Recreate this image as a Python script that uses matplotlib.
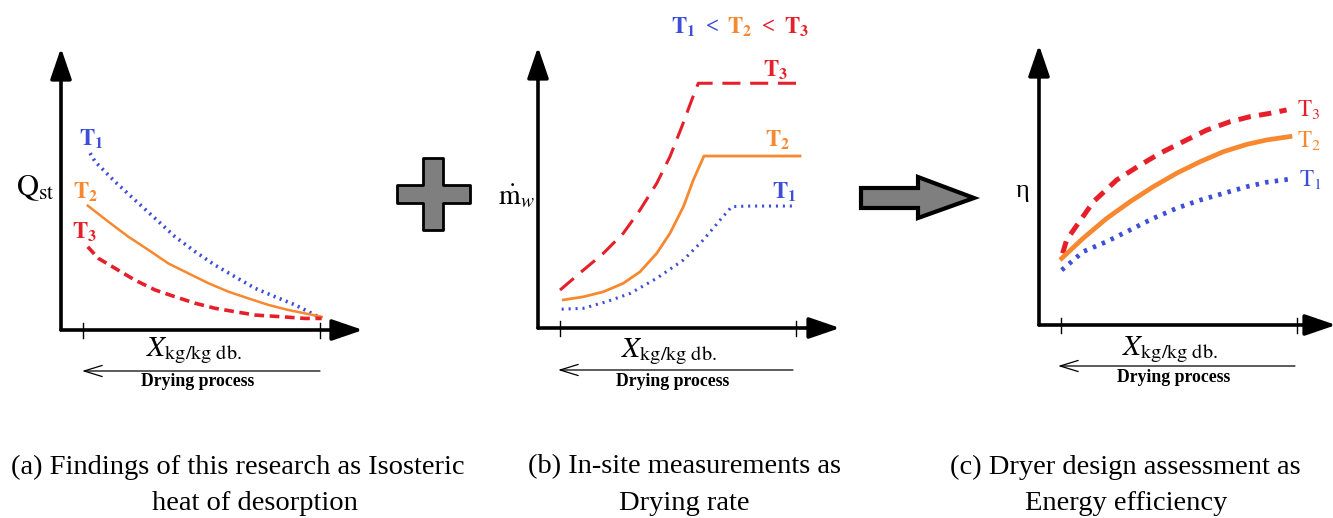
import matplotlib
matplotlib.use('Agg')
import matplotlib.pyplot as plt
from matplotlib.patches import Polygon

plt.rcParams['mathtext.fontset'] = 'stix'
plt.rcParams['font.family'] = ['Liberation Serif', 'DejaVu Serif']
plt.rcParams['lines.scale_dashes'] = False

W, H = 1333, 518
BLUE, ORANGE, RED = '#3d4fd8', '#f7882f', '#e5202b'

# ---------------- data (normalised moisture content X: 0 .. 1, normalised response) -------------
# (a) Isosteric heat of desorption Q_st
qst_t1_x = [0.030, 0.051, 0.135, 0.219, 0.304, 0.388, 0.473, 0.557, 0.641, 0.726, 0.810, 0.895, 0.993]
qst_t1_y = [0.627, 0.597, 0.526, 0.461, 0.396, 0.331, 0.278, 0.230, 0.189, 0.148, 0.118, 0.089, 0.047]
qst_t2_x = [0.020, 0.107, 0.191, 0.276, 0.360, 0.444, 0.529, 0.613, 0.698, 0.782, 0.866, 1.007]
qst_t2_y = [0.441, 0.384, 0.331, 0.284, 0.236, 0.201, 0.166, 0.136, 0.112, 0.089, 0.071, 0.047]
qst_t3_x = [0.020, 0.065, 0.135, 0.219, 0.304, 0.388, 0.473, 0.557, 0.641, 0.726, 0.838, 0.937, 1.007]
qst_t3_y = [0.295, 0.254, 0.219, 0.177, 0.142, 0.118, 0.095, 0.077, 0.065, 0.053, 0.047, 0.041, 0.041]

# (b) Drying rate m_w
mw_t3_x = [0.000, 0.099, 0.184, 0.268, 0.339, 0.410, 0.466, 0.516, 0.558, 0.586, 1.017]
mw_t3_y = [0.135, 0.206, 0.266, 0.337, 0.420, 0.515, 0.610, 0.716, 0.811, 0.871, 0.871]
mw_t2_x = [0.014, 0.099, 0.184, 0.268, 0.339, 0.410, 0.466, 0.523, 0.565, 0.610, 1.017]
mw_t2_y = [0.100, 0.111, 0.129, 0.159, 0.200, 0.266, 0.337, 0.432, 0.527, 0.612, 0.612]
mw_t1_x = [0.007, 0.099, 0.198, 0.297, 0.410, 0.523, 0.607, 0.678, 0.728, 0.805, 0.996]
mw_t1_y = [0.067, 0.070, 0.094, 0.123, 0.177, 0.242, 0.313, 0.384, 0.432, 0.434, 0.434]

# (c) Energy efficiency eta
eta_t3_x = [0.007, 0.024, 0.073, 0.137, 0.236, 0.335, 0.419, 0.518, 0.617, 0.716, 0.801, 0.886, 0.956]
eta_t3_y = [0.256, 0.304, 0.363, 0.440, 0.518, 0.571, 0.613, 0.655, 0.696, 0.726, 0.744, 0.756, 0.768]
eta_t2_x = [0.003, 0.094, 0.194, 0.292, 0.391, 0.490, 0.589, 0.688, 0.787, 0.872, 0.970]
eta_t2_y = [0.238, 0.310, 0.381, 0.440, 0.494, 0.542, 0.583, 0.619, 0.645, 0.661, 0.673]
eta_t1_x = [0.003, 0.094, 0.194, 0.292, 0.391, 0.490, 0.589, 0.688, 0.787, 0.872, 0.970]
eta_t1_y = [0.196, 0.262, 0.298, 0.339, 0.381, 0.417, 0.446, 0.470, 0.494, 0.510, 0.521]

y_labels = [r'$\mathrm{Q}_{\mathrm{st}}$', r'$\dot{\mathrm{m}}_{w}$', 'η']
x_label = r'$X_{\mathrm{kg/kg\ db.}}$'
process_label = 'Drying process'
captions = [['(a) Findings of this research as Isosteric', 'heat of desorption'],
            ['(b) In-site measurements as', 'Drying rate'],
            ['(c) Dryer design assessment as', 'Energy efficiency']]

# ---------------- figure ----------------
fig = plt.figure(figsize=(W / 100, H / 100), dpi=100)
ov = fig.add_axes([0, 0, 1, 1], zorder=0)
ov.set_xlim(0, W)
ov.set_ylim(H, 0)
ov.axis('off')


def px_axes(left, top, right, bottom, tick0, tick1):
    ax = fig.add_axes([left / W, 1 - bottom / H, (right - left) / W, (bottom - top) / H], zorder=2)
    ax.patch.set_alpha(0)
    scale = tick1 - tick0
    ax.set_xlim((left - tick0) / scale, (right - tick0) / scale)
    ax.set_ylim(0, 1)
    ax.axis('off')
    # axes with arrows
    for xy in [(0, 1), (1, 0)]:
        ax.annotate('', xy=xy, xytext=(0, 0), xycoords='axes fraction', textcoords='axes fraction',
                    arrowprops=dict(arrowstyle='-|>,head_length=1.05,head_width=0.36', lw=2.6,
                                    color='black', mutation_scale=18, shrinkA=0, shrinkB=0),
                    annotation_clip=False)
    hh = bottom - top
    for t in (0, 1):
        ax.plot([t, t], [-8 / hh, 7 / hh], color='black', lw=1.0, clip_on=False)
    return ax


panels = [
    px_axes(61, 48, 363, 330, 83, 320),
    px_axes(538, 47, 840, 328, 560, 796),
    px_axes(1039, 45, 1336, 325, 1061, 1297),
]

axa, axb, axc = panels
# (a)
axa.plot(qst_t1_x, qst_t1_y, color=BLUE, lw=2.6, dashes=(1.5, 3.2), clip_on=False)
axa.plot(qst_t2_x, qst_t2_y, color=ORANGE, lw=1.8, clip_on=False)
axa.plot(qst_t3_x, qst_t3_y, color=RED, lw=2.6, dashes=(7, 4), clip_on=False)
# (b)
axb.plot(mw_t3_x, mw_t3_y, color=RED, lw=2.2, dashes=(13, 7), clip_on=False)
axb.plot(mw_t2_x, mw_t2_y, color=ORANGE, lw=2.0, clip_on=False)
axb.plot(mw_t1_x, mw_t1_y, color=BLUE, lw=2.2, dashes=(1.5, 3.5), clip_on=False)
# (c)
axc.plot(eta_t3_x, eta_t3_y, color=RED, lw=3.6, dashes=(9, 6), clip_on=False)
axc.plot(eta_t2_x, eta_t2_y, color=ORANGE, lw=3.4, clip_on=False)
axc.plot(eta_t1_x, eta_t1_y, color=BLUE, lw=3.4, dashes=(2.5, 4.5), clip_on=False)

# ---------------- labels ----------------
def T(k, bold=True):
    return r'$\mathbf{T_{%d}}$' % k if bold else r'$\mathrm{T_{%d}}$' % k

tl = [
    (91, 139, 1, BLUE, True), (86, 192, 2, ORANGE, True), (85, 232, 3, RED, True),
    (776, 70, 3, RED, True), (778, 140, 2, ORANGE, True), (784, 192, 1, BLUE, True),
    (1309, 110, 3, RED, False), (1309, 141, 2, ORANGE, False), (1310, 180, 1, BLUE, False),
]
for x, y, k, c, b in tl:
    ov.text(x, y, T(k, b), color=c, fontsize=16.5, ha='center', va='center')

# header T1 < T2 < T3
for x, s, c in [(683, T(1), BLUE), (712, '<', BLUE), (740, T(2), ORANGE), (768, '<', RED), (797, T(3), RED)]:
    ov.text(x, 27, s, color=c, fontsize=16.5, ha='center', va='center', fontweight='bold')

# y labels
ov.text(35, 188, y_labels[0], fontsize=22, ha='center', va='center')
ov.text(516, 196, y_labels[1], fontsize=20, ha='center', va='center')
ov.text(1022, 191, y_labels[2], fontsize=19, ha='center', va='center')

# x labels and drying-process arrows
for cx, ylab, yarr, x0, x1, yproc in [(194, 351, 371, 82, 320, 382),
                                      (669, 352, 370, 558, 793, 382),
                                      (1170, 350, 366, 1058, 1295, 378)]:
    ov.text(cx, ylab, x_label, fontsize=21, ha='center', va='center')
    ov.annotate('', xy=(x0, yarr), xytext=(x1, yarr), xycoords='data',
                arrowprops=dict(arrowstyle='->,head_length=1.3,head_width=0.4', lw=0.9,
                                color='black', mutation_scale=10, shrinkA=0, shrinkB=0))
    ov.text(cx + 4, yproc, process_label, fontsize=12.8, fontweight='bold', ha='center', va='center')

# plus sign
plus = [(423, 158), (443, 158), (443, 185), (470, 185), (470, 203), (443, 203), (443, 230),
        (423, 230), (423, 203), (397, 203), (397, 185), (423, 185)]
ov.add_patch(Polygon(plus, closed=True, facecolor='#7f7f7f', edgecolor='black', lw=2.0, joinstyle='round'))

# block arrow
arrow = [(861, 188), (918, 188), (918, 177), (974, 198), (918, 218), (918, 208), (861, 208)]
ov.add_patch(Polygon(arrow, closed=True, facecolor='#7f7f7f', edgecolor='black', lw=3.0, joinstyle='miter'))

# captions
for (l1, l2), c in zip(captions, [(238, 255), (685, 684), (1125, 1126)]):
    ov.text(c[0], 467, l1, fontsize=20.5, ha='center', va='center')
    ov.text(c[1], 503, l2, fontsize=20.5, ha='center', va='center')

fig.savefig('out.png', dpi=100, facecolor='white')
